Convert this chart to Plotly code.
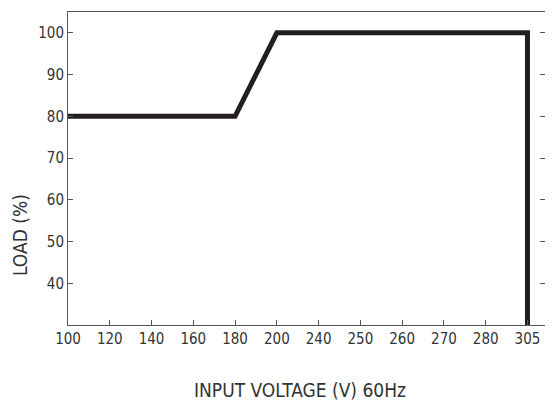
import plotly.graph_objects as go

categories = ["100", "120", "140", "160", "180", "200", "240", "250", "260", "270", "280", "305"]
curve_x = ["100", "180", "200", "305", "305"]
curve_y = [80, 80, 100, 100, 30]
y_ticks = [40, 50, 60, 70, 80, 90, 100]

FONT = "Liberation Sans Narrow, DejaVu Sans Condensed, Roboto Condensed, Arial Narrow, sans-serif"

# the page places the figure at (8, 8) and clips it at x = 545
OFF = 8
W, H = 545 - OFF, 403 - OFF
L, T, B = 68 - OFF, 12 - OFF, 403 - 325
STEP = 41.77  # px per category

pw = W - L
ph = H - T - B

fig = go.Figure()
fig.add_trace(go.Scatter(
    x=curve_x, y=curve_y, mode="lines",
    line=dict(color="#231f20", width=5),
    showlegend=False, hoverinfo="skip", cliponaxis=False,
))
# invisible trace to activate the right-hand tick axis
fig.add_trace(go.Scatter(
    x=[categories[0]], y=[y_ticks[0]], yaxis="y2", mode="markers",
    marker=dict(opacity=0), showlegend=False, hoverinfo="skip",
))

AX = "#555555"
fig.update_layout(
    width=W, height=H, autosize=False,
    margin=dict(l=L, r=0, t=T, b=B),
    paper_bgcolor="white", plot_bgcolor="white",
    font=dict(family=FONT, color="#333333", size=15),
    xaxis=dict(
        type="category", categoryorder="array", categoryarray=categories,
        tickvals=categories, ticktext=categories,
        range=[0, pw / STEP], showgrid=False, zeroline=False,
        showline=True, linecolor=AX, linewidth=1, mirror=True,
        ticks="inside", ticklen=5, tickcolor=AX,
        tickfont=dict(family=FONT, size=15, color="#333333"),
    ),
    yaxis=dict(
        range=[30, 105], tickvals=y_ticks, showgrid=False, zeroline=False,
        showline=True, linecolor=AX, linewidth=1, mirror=False,
        ticks="inside", ticklen=5, tickcolor=AX,
        tickfont=dict(family=FONT, size=15, color="#333333"),
    ),
    yaxis2=dict(
        overlaying="y", side="right", range=[30, 105], tickvals=y_ticks,
        showgrid=False, zeroline=False, showline=False, showticklabels=False,
        ticks="inside", ticklen=5, tickcolor=AX,
    ),
    annotations=[
        dict(text="INPUT VOLTAGE (V) 60Hz", xref="paper", yref="paper",
             x=(300 - 68) / pw, y=-(390 - 325) / ph, xanchor="center", yanchor="middle",
             showarrow=False, font=dict(family=FONT, size=19, color="#333333")),
        dict(text="LOAD (%)", xref="paper", yref="paper", textangle=-90,
             x=-(68 - 20) / pw, y=(325 - 235) / ph, xanchor="center", yanchor="middle",
             showarrow=False, font=dict(family=FONT, size=19, color="#333333")),
    ],
)

fig.write_html("out.html", config={"responsive": False})
